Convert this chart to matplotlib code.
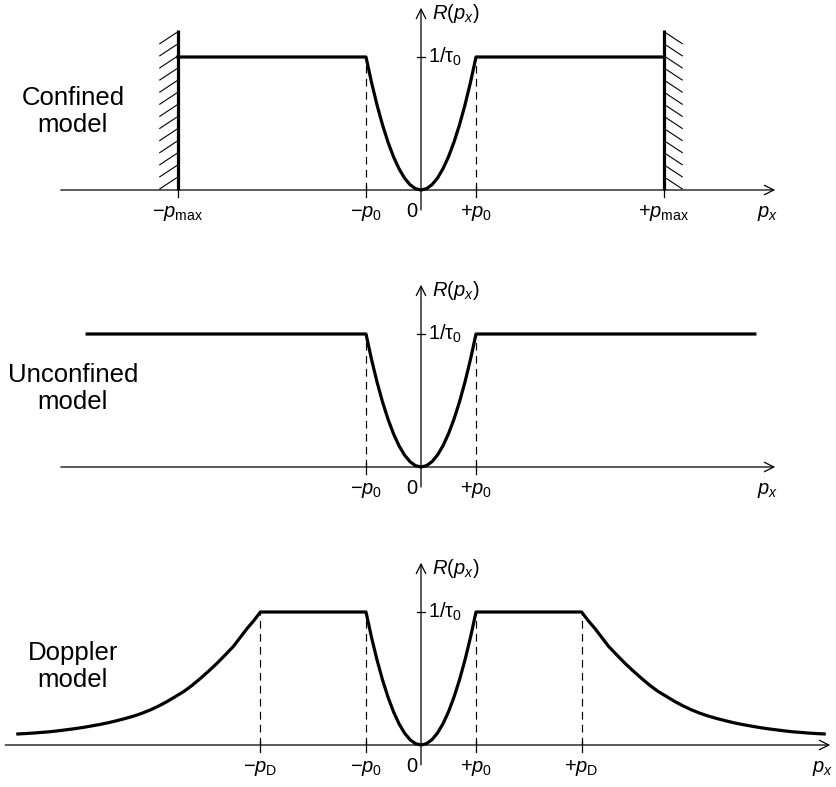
"""Relaxation rate R(p_x) for the confined, unconfined and Doppler models.

Output: out.png
"""
import numpy as np
import matplotlib.pyplot as plt

plt.rcParams["font.family"] = "Liberation Sans"
plt.rcParams["mathtext.fontset"] = "custom"
plt.rcParams["mathtext.rm"] = "Liberation Sans"
plt.rcParams["mathtext.it"] = "Liberation Sans:italic"
plt.rcParams["mathtext.bf"] = "Liberation Sans:bold"

W, H = 837, 787
X0, SX, SY = 421, 55.0, 133.0   # pixel of p=0, pixels per p0, pixels per 1/tau0

# right half of each curve (mirrored for p < 0); p in units of p0, R in units of 1/tau0
P_PARA = [0.0, 0.1, 0.2, 0.3, 0.4, 0.5, 0.6, 0.7, 0.8, 0.9, 1.0]
R_PARA = [0.0, 0.01, 0.04, 0.09, 0.16, 0.25, 0.36, 0.49, 0.64, 0.81, 1.0]
P_MAX = 4.42          # confined: wall position
P_END = 6.07          # unconfined: end of drawn plateau
P_D = 2.92            # Doppler: start of the tail
P_TAIL = [3.04, 3.16, 3.29, 3.41, 3.56, 3.71, 3.86, 4.01, 4.16, 4.31,
          4.47, 4.62, 4.77, 4.92, 5.07, 5.22, 5.38, 5.53, 5.68, 5.83,
          5.98, 6.13, 6.29, 6.44, 6.59, 6.74, 6.89, 7.04, 7.19, 7.33]
R_TAIL = [0.935, 0.877, 0.807, 0.742, 0.677, 0.614, 0.556, 0.501, 0.449, 0.403,
          0.363, 0.326, 0.293, 0.264, 0.239, 0.218, 0.199, 0.183, 0.168, 0.155,
          0.144, 0.133, 0.123, 0.115, 0.107, 0.100, 0.095, 0.090, 0.086, 0.083]

MODELS = ["Confined\nmodel", "Unconfined\nmodel", "Doppler\nmodel"]

CURVE_LW = 2.3
THIN = 0.9
FS = 14.5


def mirror(p, r):
    p = np.asarray(p, float)
    r = np.asarray(r, float)
    return np.concatenate([-p[::-1], p[1:]]), np.concatenate([r[::-1], r[1:]])


def make_panel(fig, top, bottom, base):
    ax = fig.add_axes([0, 1 - bottom / H, 1, (bottom - top) / H])
    ax.set_xlim(-X0 / SX, (W - X0) / SX)
    ax.set_ylim((base - bottom) / SY, (base - top) / SY)
    ax.axis("off")
    return ax


def frame(ax, x_left, x_right, label):
    arr = dict(arrowstyle="->", lw=THIN, color="black", mutation_scale=17,
               shrinkA=0, shrinkB=0)
    ax.annotate("", xy=(x_right, 0), xytext=(x_left, 0), arrowprops=arr)
    ax.annotate("", xy=(0, 1.37), xytext=(0, -0.15), arrowprops=arr)
    ax.plot([-0.07, 0.07], [1, 1], color="black", lw=THIN)
    ax.text(0.2, 1.33, r"$R(p_x)$", fontsize=FS, ha="left", va="center")
    ax.text(0.13, 0.955, r"$1/\mathrm{τ}_0$", fontsize=FS, ha="left", va="baseline")
    ax.text(-0.17, -0.2, "0", fontsize=FS, ha="center", va="baseline")
    ax.text(x_right - 0.14, -0.2, r"$p_x$", fontsize=FS, ha="center", va="baseline")
    ax.text(-6.33, 0.59, label, fontsize=18.5, ha="center", va="center")


def mark(ax, p, text, dashed=True):
    if dashed:
        ax.plot([p, p], [0, 1], color="black", lw=0.85, dashes=(6.5, 4.5))
    ax.plot([p, p], [-0.055, 0.03], color="black", lw=THIN)
    ax.text(p, -0.2, text, fontsize=FS, ha="center", va="baseline")


def wall(ax, p, side):
    ax.plot([p, p], [0, 1.2], color="black", lw=CURVE_LW, solid_capstyle="butt")
    for y in np.linspace(0.098, 1.19, 13):
        ax.plot([p, p + side * 0.33], [y, y - 0.09], color="black", lw=0.8)


def main():
    fig = plt.figure(figsize=(W / 100, H / 100), dpi=100)
    fig.patch.set_facecolor("white")

    # ---- Confined model ----
    ax = make_panel(fig, 0, 262, 190)
    frame(ax, -6.55, 6.44, MODELS[0])
    p, r = mirror(P_PARA + [P_MAX], R_PARA + [1.0])
    ax.plot(p, r, color="black", lw=CURVE_LW, solid_joinstyle="round")
    wall(ax, -P_MAX, -1)
    wall(ax, P_MAX, 1)
    mark(ax, -1, r"$-p_0$")
    mark(ax, 1, r"$+p_0$")
    mark(ax, -P_MAX, r"$-p_\mathrm{max}$", dashed=False)
    mark(ax, P_MAX, r"$+p_\mathrm{max}$", dashed=False)

    # ---- Unconfined model ----
    ax = make_panel(fig, 262, 525, 467)
    frame(ax, -6.55, 6.44, MODELS[1])
    p, r = mirror(P_PARA + [P_END], R_PARA + [1.0])
    ax.plot(p, r, color="black", lw=CURVE_LW, solid_joinstyle="round")
    mark(ax, -1, r"$-p_0$")
    mark(ax, 1, r"$+p_0$")

    # ---- Doppler model ----
    ax = make_panel(fig, 525, 787, 745)
    frame(ax, -7.56, 7.44, MODELS[2])
    p, r = mirror(P_PARA + [P_D] + P_TAIL, R_PARA + [1.0] + R_TAIL)
    ax.plot(p, r, color="black", lw=CURVE_LW, solid_joinstyle="round")
    mark(ax, -1, r"$-p_0$")
    mark(ax, 1, r"$+p_0$")
    mark(ax, -P_D, r"$-p_\mathrm{D}$")
    mark(ax, P_D, r"$+p_\mathrm{D}$")

    fig.savefig("out.png", dpi=100, facecolor="white")
    plt.close(fig)


if __name__ == "__main__":
    main()
